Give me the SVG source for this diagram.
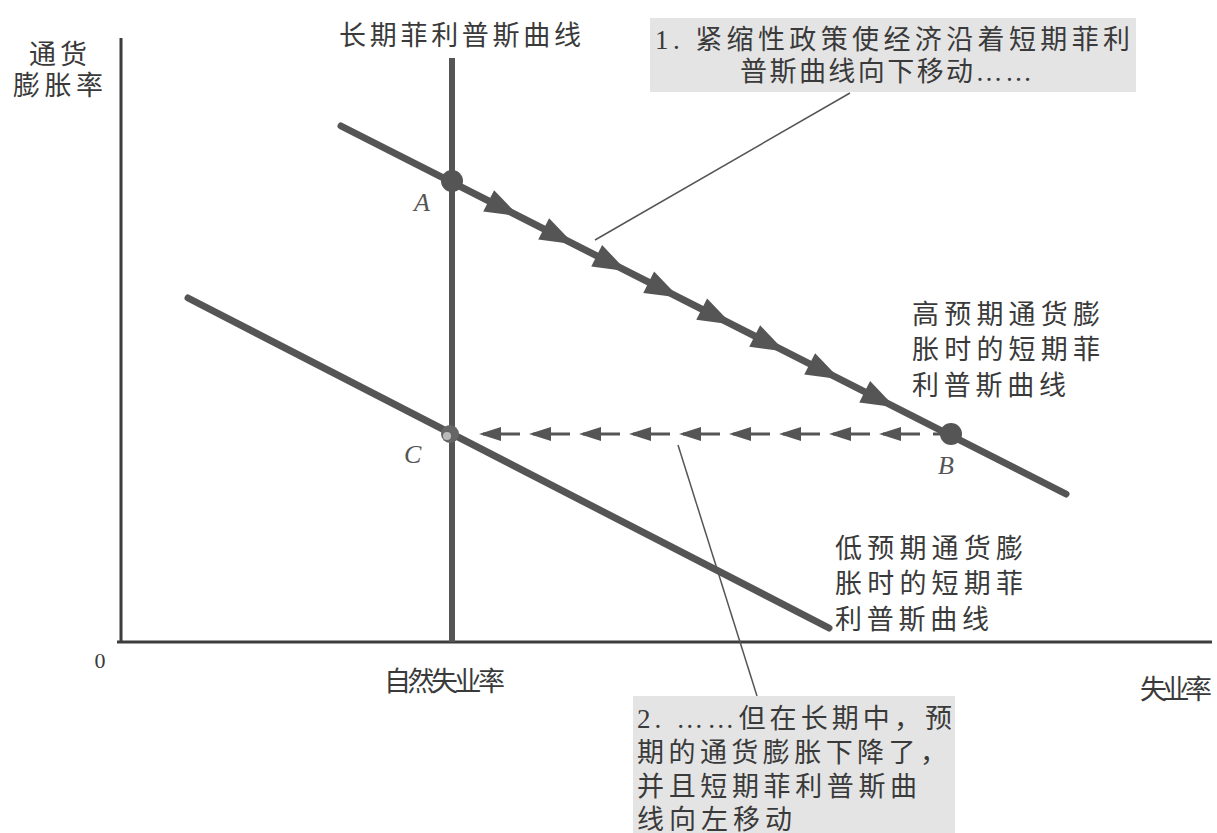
<svg xmlns="http://www.w3.org/2000/svg" width="1217" height="833" viewBox="0 0 1217 833">
<style>
.t{font-family:"Liberation Serif","Noto Sans CJK SC",serif;font-size:27px;fill:#3a3a3a}
.i{font-family:"Liberation Serif",serif;font-style:italic;font-size:26px;fill:#555}
.ax{stroke:#3d3d3d;stroke-width:3;fill:none}
.curve{stroke:#555;stroke-width:7;fill:none;stroke-linecap:round}
.lead{stroke:#555;stroke-width:1.5;fill:none}
.box{fill:#e4e4e4}
</style>
<defs>
<path id="ah" d="M0,0 L-34,-12 L-34,12 Z" fill="#555"/>
<path id="ahl" d="M0,0 L22,-7 L22,7 Z" fill="#555"/>
</defs>
<rect width="1217" height="833" fill="#fff"/>
<g id="axes">
<line class="ax" x1="121" y1="38" x2="121" y2="643"/>
<line class="ax" x1="117" y1="642" x2="1212" y2="642"/>
<text class="t" x="100" y="668" text-anchor="middle" style="font-size:22px">0</text>
<text class="t" x="58" y="64" text-anchor="middle" textLength="58">通货</text>
<text class="t" x="58" y="95" text-anchor="middle" textLength="90">膨胀率</text>
<text class="t" x="1140" y="699" textLength="72">失业率</text>
</g>
<g id="lrpc">
<line x1="452" y1="58" x2="452" y2="642" stroke="#555" stroke-width="6"/>
<text class="t" x="339" y="45" textLength="242">长期菲利普斯曲线</text>
<text class="t" x="384" y="691" textLength="121">自然失业率</text>
</g>
<g id="srpc-high">
<line class="curve" x1="341" y1="126" x2="1066" y2="494"/>
<text class="t" x="912" y="324" textLength="188">高预期通货膨</text>
<text class="t" x="912" y="359" textLength="188">胀时的短期菲</text>
<text class="t" x="912" y="395" textLength="154">利普斯曲线</text>
</g>
<g id="srpc-low">
<line class="curve" x1="188" y1="298" x2="829" y2="628"/>
<text class="t" x="835" y="558" textLength="188">低预期通货膨</text>
<text class="t" x="835" y="593" textLength="188">胀时的短期菲</text>
<text class="t" x="835" y="629" textLength="154">利普斯曲线</text>
</g>
<g id="connectors">
<use href="#ah" transform="translate(519,216.3) rotate(26.9)"/>
<use href="#ah" transform="translate(574,244.3) rotate(26.9)"/>
<use href="#ah" transform="translate(627,271.2) rotate(26.9)"/>
<use href="#ah" transform="translate(679,297.6) rotate(26.9)"/>
<use href="#ah" transform="translate(732,324.5) rotate(26.9)"/>
<use href="#ah" transform="translate(785,351.4) rotate(26.9)"/>
<use href="#ah" transform="translate(840,379.3) rotate(26.9)"/>
<use href="#ah" transform="translate(895,407.2) rotate(26.9)"/>
<line x1="483" y1="434" x2="945" y2="434" stroke="#555" stroke-width="3" stroke-dasharray="37 13"/>
<use href="#ahl" transform="translate(479,434)"/>
<use href="#ahl" transform="translate(529,434)"/>
<use href="#ahl" transform="translate(579,434)"/>
<use href="#ahl" transform="translate(629,434)"/>
<use href="#ahl" transform="translate(679,434)"/>
<use href="#ahl" transform="translate(729,434)"/>
<use href="#ahl" transform="translate(779,434)"/>
<use href="#ahl" transform="translate(829,434)"/>
<use href="#ahl" transform="translate(879,434)"/>
<line class="lead" x1="850" y1="93" x2="595" y2="240"/>
<line class="lead" x1="678" y1="445" x2="757" y2="696"/>
</g>
<g id="pointA">
<circle cx="452" cy="181" r="11" fill="#555"/>
<text class="i" x="414" y="211">A</text>
</g>
<g id="pointB">
<circle cx="951" cy="434" r="11" fill="#555"/>
<text class="i" x="938" y="474">B</text>
</g>
<g id="pointC">
<circle cx="450" cy="434" r="9" fill="#666"/>
<circle cx="447" cy="436" r="4" fill="#bbb"/>
<text class="i" x="404" y="463">C</text>
</g>
<g id="note1">
<rect class="box" x="650" y="18" width="486" height="74"/>
<text class="t" x="655" y="49" textLength="475">1. 紧缩性政策使经济沿着短期菲利</text>
<text class="t" x="740" y="81" textLength="292">普斯曲线向下移动……</text>
</g>
<g id="note2">
<rect class="box" x="633" y="696" width="322" height="137"/>
<text class="t" x="637" y="728" textLength="315">2. ……但在长期中，预</text>
<text class="t" x="637" y="762" textLength="310">期的通货膨胀下降了，</text>
<text class="t" x="637" y="796" textLength="280">并且短期菲利普斯曲</text>
<text class="t" x="637" y="829" textLength="155">线向左移动</text>
</g>
</svg>
